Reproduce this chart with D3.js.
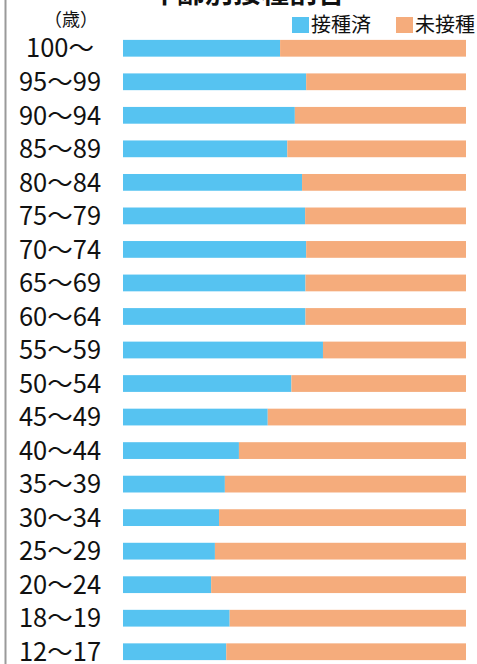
<!DOCTYPE html>
<html><head><meta charset="utf-8">
<script src="https://cdn.jsdelivr.net/npm/d3@7"></script>
<style>html,body{margin:0;padding:0;background:#fff;}svg{display:block;}</style>
</head><body>
<svg id="c" width="477" height="664"></svg>
<script>
const categories = ["100〜","95〜99","90〜94","85〜89","80〜84","75〜79","70〜74","65〜69","60〜64","55〜59","50〜54","45〜49","40〜44","35〜39","30〜34","25〜29","20〜24","18〜19","12〜17"];
const vaccinated = [45.8,53.4,50.1,47.9,52.2,53.1,53.4,53.2,53.2,58.3,49.1,42.2,33.8,29.7,28.0,26.8,25.7,31.1,30.1];
const seriesNames = ["接種済","未接種"];
const colors = ["#56C3F1","#F5AC7C"];
const titleText = "年齢別接種割合";
const unitText = "（歳）";

const svg = d3.select("#c");
const font = "'Noto Sans CJK JP','Noto Sans',sans-serif";

const x = d3.scaleLinear().domain([0,100]).range([123,466]);
const y = d3.scaleBand().domain(categories).range([31.5,668.5]).paddingInner(0.5).paddingOuter(0.25);

// frame line
svg.append("line").attr("x1",5.5).attr("x2",5.5).attr("y1",0).attr("y2",664)
  .attr("stroke","#9a9a9a").attr("stroke-width",2);

// title (cut off at top)
svg.append("text").attr("x",247).attr("y",3).attr("text-anchor","middle")
  .attr("font-family",font).attr("font-weight","bold").attr("font-size",28).attr("fill","#111")
  .text(titleText);

// unit
svg.append("text").attr("x",71).attr("y",26).attr("text-anchor","middle")
  .attr("font-family",font).attr("font-size",18).attr("fill","#111").text(unitText);

// legend
const legendX = [292,396];
seriesNames.forEach((n,i)=>{
  svg.append("rect").attr("x",legendX[i]).attr("y",17).attr("width",17).attr("height",16).attr("fill",colors[i]);
  svg.append("text").attr("x",legendX[i]+19).attr("y",32).attr("font-family",font).attr("font-size",20).attr("fill","#111").text(n);
});

const rows = categories.map((c,i)=>({c, v:vaccinated[i]}));
const g = svg.append("g");
g.selectAll("rect.v").data(rows).join("rect").attr("class","v")
  .attr("x",x(0)).attr("y",d=>y(d.c)).attr("width",d=>x(d.v)-x(0)).attr("height",y.bandwidth()).attr("fill",colors[0]);
g.selectAll("rect.u").data(rows).join("rect").attr("class","u")
  .attr("x",d=>x(d.v)).attr("y",d=>y(d.c)).attr("width",d=>x(100)-x(d.v)).attr("height",y.bandwidth()).attr("fill",colors[1]);

// category labels
const yAxis = d3.axisLeft(y).tickSize(0).tickPadding(0);
const ax = svg.append("g").attr("transform","translate(60,0)").call(yAxis);
ax.select(".domain").remove();
ax.selectAll("text").attr("text-anchor","middle").attr("dy","0.36em").attr("x",0)
  .attr("font-family",font).attr("font-size",25.5).attr("fill","#111");
</script>
</body></html>
